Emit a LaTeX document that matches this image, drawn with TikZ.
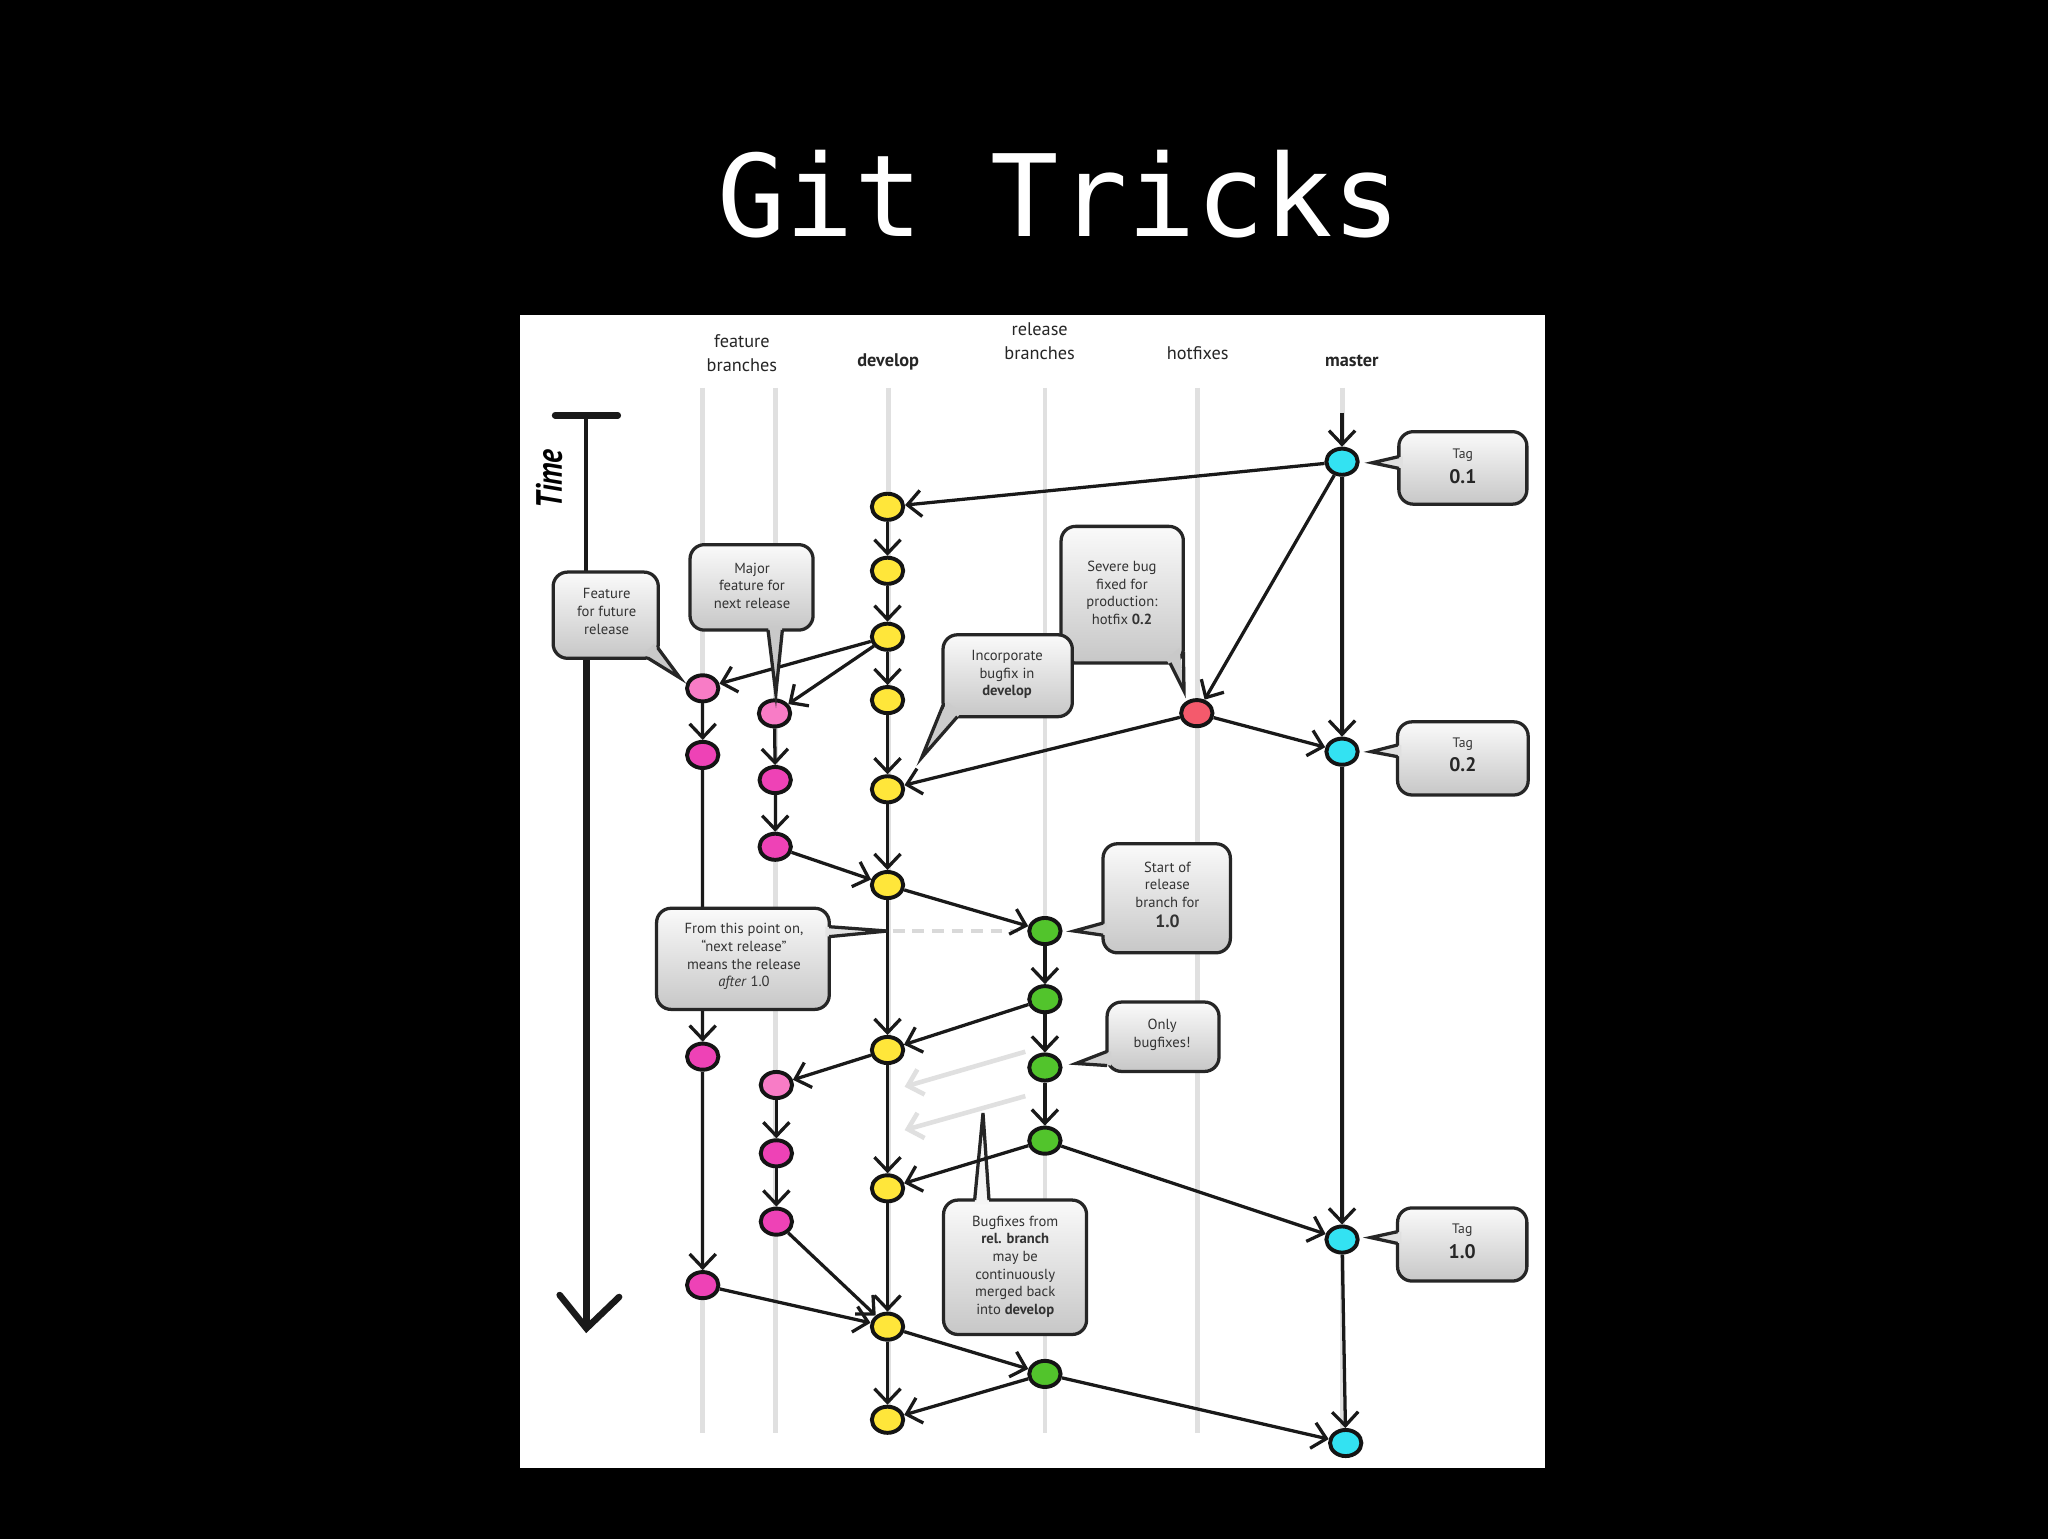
\documentclass[tikz,border=0pt]{standalone}
\usepackage{fontspec}
\setmainfont{PT Sans}
\newfontfamily\titlefont{DejaVu Sans Mono}
\usepackage{graphicx}
\usetikzlibrary{arrows.meta,shapes.geometric,calc}
\definecolor{cyel}{HTML}{FFE63A}
\definecolor{cpinkl}{HTML}{F87CC6}
\definecolor{cpink}{HTML}{EE42B6}
\definecolor{cgreen}{HTML}{52C42C}
\definecolor{ccyan}{HTML}{33E2F2}
\definecolor{cred}{HTML}{F45A6C}
\tikzset{
 commit/.style={ellipse, draw=black!92, line width=3pt, minimum width=24pt, minimum height=20pt, inner sep=0pt},
 arr/.style={draw=black!90, line width=2.5pt, -{Straight Barb[length=10.5pt,width=20pt]}},
 ghost/.style={draw=black!12, line width=3.5pt, -{Straight Barb[length=10.5pt,width=20pt]}},
 lane/.style={draw=black!12, line width=3.6pt},
 dashline/.style={draw=black!15, line width=2.5pt, dash pattern=on 9pt off 6pt},
 callout/.style={draw=black!85, line width=2.5pt, rounded corners=11pt, top color=black!2, bottom color=black!22, inner sep=0pt},
 ctext/.style={text=black!80, font=\fontsize{11.2}{13.5}\selectfont, align=center, inner sep=0pt},
 tagsmall/.style={text=black!80, font=\fontsize{10.5}{10.5}\selectfont, inner sep=0pt},
 tagbig/.style={text=black!85, font=\fontsize{15}{15}\selectfont\bfseries, inner sep=0pt},
 tailline/.style={draw=black!85, line width=2.5pt, line join=miter},
 hdr/.style={text=black!85, font=\fontsize{14}{14}\selectfont, anchor=base, inner sep=0pt},
 axis/.style={draw=black!90, line cap=round, line join=round},
}
\newcommand\ctail[5]{%
  \fill[#5] ($#1+#4$) -- #3 -- ($#2+#4$) -- cycle;
  \draw[tailline] #1 -- #3 -- #2;}
\begin{document}
\begin{tikzpicture}[x=1pt,y=-1pt]
\useasboundingbox (0,0) rectangle (1568,1178.3);
\fill[black] (0,0) rectangle (1568,1178.3);
\fill[white] (398,241.2) rectangle (1182.5,1123.6);

% title
\node[anchor=base, text=white, font=\titlefont\fontsize{87}{87}\selectfont, inner sep=0pt] (title) at (811,181) {Git Tricks};

% headers
\node[hdr] (hF1) at (568,266) {feature};
\node[hdr] (hF2) at (568,284.6) {branches};
\node[hdr, font=\fontsize{14}{14}\selectfont\bfseries] (hD) at (680,280.7) {develop};
\node[hdr] (hR1) at (796,257) {release};
\node[hdr] (hR2) at (796,275.6) {branches};
\node[hdr] (hH) at (917,275.6) {hotfixes};
\node[hdr, font=\fontsize{14}{14}\selectfont\bfseries] (hM) at (1035,280.7) {master};

% lanes
\foreach \lx in {538,594,680,800,917,1028}
  \draw[lane] (\lx,297) -- (\lx,1097);

% time axis
\draw[axis, line width=5pt] (425,318) -- (473,318);
\draw[axis, line width=3pt] (449,318) -- (449,445);
\draw[axis, line width=5.5pt] (449,440) -- (449,1014);
\draw[axis, line width=5pt, line join=miter] (428.5,991.5) -- (449,1017) -- (474,993);
\node[rotate=90, inner sep=0pt] (timelbl) at (420.5,366.7)
  {\scalebox{0.8}[1]{\fontsize{28}{28}\selectfont\bfseries\itshape Time}};

% commits
\node[commit, fill=cyel] (d1) at (679.5,388) {};
\node[commit, fill=cyel] (d2) at (679.5,437) {};
\node[commit, fill=cyel] (d3) at (679.5,487.5) {};
\node[commit, fill=cyel] (d4) at (679.5,536) {};
\node[commit, fill=cyel] (d5) at (679.5,604.3) {};
\node[commit, fill=cyel] (d6) at (679.5,677.6) {};
\node[commit, fill=cyel] (d7) at (679.5,803.9) {};
\node[commit, fill=cyel] (d8) at (679.5,909.8) {};
\node[commit, fill=cyel] (d9) at (679.5,1015.7) {};
\node[commit, fill=cyel] (d10) at (679.5,1087) {};

\node[commit, fill=ccyan] (m1) at (1027.5,353.5) {};
\node[commit, fill=ccyan] (m2) at (1027.5,575.5) {};
\node[commit, fill=ccyan] (m3) at (1027.5,949) {};
\node[commit, fill=ccyan] (m4) at (1030.3,1104.8) {};

\node[commit, fill=cred] (h1) at (916.3,546) {};

\node[commit, fill=cgreen] (r1) at (800,712.8) {};
\node[commit, fill=cgreen] (r2) at (800,765) {};
\node[commit, fill=cgreen] (r3) at (800,817.3) {};
\node[commit, fill=cgreen] (r4) at (800,873.3) {};
\node[commit, fill=cgreen] (r5) at (800,1051.9) {};

\node[commit, fill=cpinkl] (f1) at (538,527) {};
\node[commit, fill=cpink] (f2) at (538,578) {};
\node[commit, fill=cpink] (f3) at (538,809) {};
\node[commit, fill=cpink] (f4) at (538,983.9) {};

\node[commit, fill=cpinkl] (g1) at (593,546.2) {};
\node[commit, fill=cpink] (g2) at (593.5,597.2) {};
\node[commit, fill=cpink] (g3) at (593.5,648.3) {};
\node[commit, fill=cpinkl] (g4) at (594.4,830.7) {};
\node[commit, fill=cpink] (g5) at (594.4,883) {};
\node[commit, fill=cpink] (g6) at (594.4,935.3) {};

\coordinate (mtop) at (1027.5,316);
\coordinate (dashA) at (683.5,712.8);
\coordinate (gh1a) at (785,805.2);
\coordinate (gh1b) at (692.6,832);
\coordinate (gh2a) at (785,839.2);
\coordinate (gh2b) at (692.6,865.2);

% dashed marker and ghost merges
\draw[dashline, shorten >=7pt] (dashA) -- (r1);
\draw[ghost] (gh1a) -- (gh1b);
\draw[ghost] (gh2a) -- (gh2b);

% connectors
\draw[arr] (mtop) -- (m1);
\draw[arr] (m1) -- (d1);
\draw[arr] (m1) -- (h1);
\draw[arr] (m1) -- (m2);
\draw[arr] (m2) -- (m3);
\draw[arr] (m3) -- (m4);
\draw[arr] (d1) -- (d2);
\draw[arr] (d2) -- (d3);
\draw[arr] (d3) -- (d4);
\draw[arr] (d4) -- (d5);
\draw[arr] (d5) -- (d6);
\draw[arr] (d6) -- (d7);
\draw[arr] (d7) -- (d8);
\draw[arr] (d8) -- (d9);
\draw[arr] (d9) -- (d10);
\draw[arr] (d3) -- (f1);
\draw[arr] (d3) -- (g1);
\draw[arr] (f1) -- (f2);
\draw[arr] (f2) -- (f3);
\draw[arr] (f3) -- (f4);
\draw[arr] (f4) -- (d9);
\draw[arr] (g1) -- (g2);
\draw[arr] (g2) -- (g3);
\draw[arr] (g3) -- (d6);
\draw[arr] (h1) -- (m2);
\draw[arr] (h1) -- (d5);
\draw[arr] (d6) -- (r1);
\draw[arr] (r1) -- (r2);
\draw[arr] (r2) -- (r3);
\draw[arr] (r3) -- (r4);
\draw[arr] (r2) -- (d7);
\draw[arr] (r4) -- (m3);
\draw[arr] (d7) -- (g4);
\draw[arr] (g4) -- (g5);
\draw[arr] (g5) -- (g6);
\draw[arr] (g6) -- (d9);
\draw[arr] (d9) -- (r5);
\draw[arr] (r5) -- (d10);
\draw[arr] (r5) -- (m4);

% callouts
\node[callout, minimum width=80.5pt, minimum height=66pt] (cFeat) at (463.75,471) {};
\ctail{(503.6,496)}{(496,503.8)}{(520.6,519)}{(-3,-3)}{black!21}
\node[ctext] (tFeat) at (464.5,468.2) {Feature\\for future\\release};

\node[callout, minimum width=94.2pt, minimum height=65.4pt] (cMajor) at (575.4,449.7) {};
\ctail{(588,482.4)}{(599,482.4)}{(594,531)}{(0,-3)}{black!21}
\node[ctext] (tMajor) at (575.8,448.4) {Major\\feature for\\next release};

\node[callout, minimum width=93.6pt, minimum height=104.6pt] (cSev) at (859.2,455.3) {};
\ctail{(895.8,507.6)}{(906,499)}{(906.5,529)}{(-3,-3)}{black!21}
\node[ctext] (tSev) at (859,453.9) {Severe bug\\fixed for\\production:\\hotfix \textbf{0.2}};

\node[callout, minimum width=99pt, minimum height=62.7pt] (cInc) at (771.5,517.35) {};
\ctail{(722,540)}{(733,548.7)}{(705.7,580)}{(3,-3)}{black!20}
\node[ctext] (tInc) at (771,516.5) {Incorporate\\bugfix in\\\textbf{develop}};

\node[callout, minimum width=98pt, minimum height=55.5pt] (cTag1) at (1120,358.25) {};
\ctail{(1071,349.6)}{(1071,358.6)}{(1050.5,354.3)}{(3,0)}{black!12}
\node[tagsmall] (tTag1a) at (1120,348.4) {Tag};
\node[tagbig] (tTag1b) at (1120,365) {0.1};

\node[callout, minimum width=100pt, minimum height=56pt] (cTag2) at (1120,580.65) {};
\ctail{(1070,570.4)}{(1070,579.3)}{(1049.7,575.5)}{(3,0)}{black!12}
\node[tagsmall] (tTag2a) at (1120,569.6) {Tag};
\node[tagbig] (tTag2b) at (1120,585.7) {0.2};

\node[callout, minimum width=99pt, minimum height=56pt] (cTag3) at (1119.5,952.8) {};
\ctail{(1070,943)}{(1070,952)}{(1049.3,947.5)}{(3,0)}{black!12}
\node[tagsmall] (tTag3a) at (1119.5,942) {Tag};
\node[tagbig] (tTag3b) at (1119.5,958) {1.0};

\node[callout, minimum width=97.5pt, minimum height=83.5pt] (cStart) at (893.25,687.75) {};
\ctail{(844.5,706.7)}{(844.5,716)}{(822.3,712.8)}{(3,0)}{black!18}
\node[ctext] (tStart) at (893.8,685) {Start of\\release\\branch for\\[1.5pt]{\fontsize{13.5}{13.5}\selectfont\bfseries 1.0}};

\node[callout, minimum width=132.2pt, minimum height=77.4pt] (cFrom) at (568.8,734.1) {};
\ctail{(634.9,709.5)}{(634.9,717.1)}{(679.4,712.8)}{(-3,0)}{black!11}
\node[ctext] (tFrom) at (569.6,732.5) {From this point on,\\“next release”\\means the release\\\textit{after} 1.0};

\node[callout, minimum width=85.7pt, minimum height=53.1pt] (cOnly) at (890.45,793.75) {};
\ctail{(847.6,805)}{(847.6,815.8)}{(823.8,814.2)}{(3,0)}{black!18}
\node[ctext] (tOnly) at (889.7,792.35) {Only\\bugfixes!};

\node[callout, minimum width=109.5pt, minimum height=102.9pt] (cBug) at (777.15,970.25) {};
\ctail{(746.2,918.8)}{(757.2,918.8)}{(752.6,852.2)}{(0,3)}{black!4}
\node[ctext] (tBug) at (777.3,969.7) {Bugfixes from\\\textbf{rel. branch}\\may be\\continuously\\merged back\\into \textbf{develop}};

% connector drawn across the last tail
\draw[arr] (r4) -- (d8);
\end{tikzpicture}
\end{document}
